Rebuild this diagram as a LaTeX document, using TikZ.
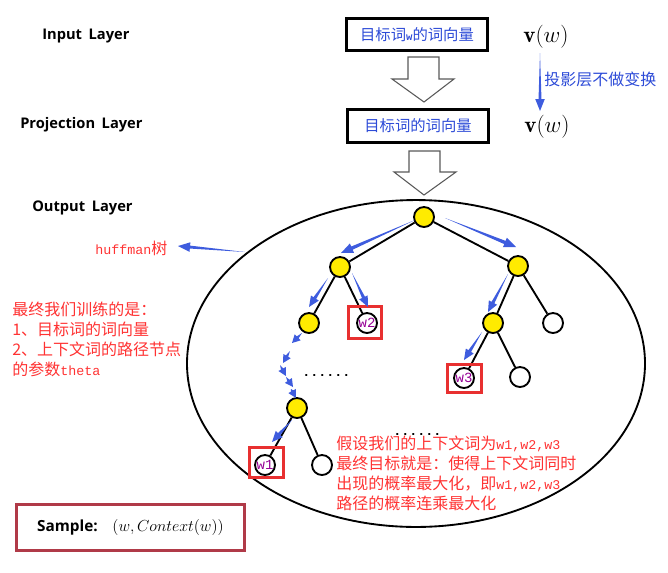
\documentclass[tikz,border=0pt]{standalone}
\usepackage{fontspec}
\usetikzlibrary{calc,arrows.meta}
\newfontfamily\cjk{Noto Sans CJK SC}
\newfontfamily\mono{Liberation Mono}
\newfontfamily\lab{Open Sans}
\definecolor{tblue}{RGB}{62,92,222}
\definecolor{txtblue}{RGB}{45,75,215}
\definecolor{tred}{RGB}{255,50,50}
\definecolor{boxred}{RGB}{232,48,48}
\definecolor{sampred}{RGB}{176,58,72}
\definecolor{wpurple}{RGB}{150,0,150}
\definecolor{tyellow}{RGB}{255,235,0}
\newcommand\taparrow[5]{%
  \coordinate (tah) at ($(#2)!#3!(#1)$);
  \fill[tblue] (#1) -- ($(tah)!#4!90:(#2)$) -- ($(tah)!#5!90:(#2)$) -- (#2)
    -- ($(tah)!#5!-90:(#2)$) -- ($(tah)!#4!-90:(#2)$) -- cycle;}
\tikzset{
  lay/.style={font=\lab\bfseries\fontsize{11}{13}\selectfont, anchor=west, inner sep=0pt},
  vbox/.style={draw, line width=2.25pt, minimum width=105.75pt, minimum height=24.5pt,
    inner sep=0pt, text=txtblue, font=\cjk\fontsize{11.5}{14}\selectfont},
  vw/.style={font=\fontsize{17.28}{20}\selectfont, inner sep=0pt},
  hollow/.style={draw=black!65, line width=0.8pt, fill=white},
  ynode/.style={circle, draw, line width=1.4pt, fill=tyellow, minimum size=15pt, inner sep=0pt},
  wnode/.style={ynode, fill=white, text=wpurple, font=\mono\fontsize{10.5}{10.5}\selectfont},
  edge/.style={line width=1.4pt},
  redbox/.style={draw=boxred, line width=2.25pt, inner sep=0pt},
  rtext/.style={text=tred, font=\cjk\fontsize{12}{15}\selectfont, align=left, inner sep=0pt},
  dots/.style={font=\mono\bfseries\fontsize{10}{10}\selectfont, anchor=base, inner sep=0pt},
  samplebox/.style={draw=sampred, line width=2.25pt, minimum width=170.5pt, minimum height=34.5pt, inner sep=0pt}
}
\begin{document}
\begin{tikzpicture}[x=0.75pt, y=-0.75pt]
\useasboundingbox (0,0) rectangle (668,572);
% layer labels
\node[lay] (inl) at (42,36) {Input\hspace{0.45em}Layer};
\node[lay] (prl) at (20,125) {Projection\hspace{0.45em}Layer};
\node[lay] (oul) at (32,208) {Output\hspace{0.45em}Layer};
% boxes
\node[vbox] (box1) at (417,34.5) {目标词{\mono\bfseries\fontsize{8}{8}\selectfont w}的词向量};
\node[vbox] (box2) at (418,126) {目标词的词向量};
\node[vw] (v1) at (546,37) {$\mathbf{v}(w)$};
\node[vw] (v2) at (547,127) {$\mathbf{v}(w)$};
% projection arrow
\coordinate (pa) at (540,53);
\coordinate (pb) at (540,111);
\taparrow{pa}{pb}{9pt}{1.1pt}{3.6pt}
\node[anchor=west, inner sep=0pt, text=txtblue, font=\cjk\fontsize{12}{14}\selectfont] (ptxt) at (544,79) {投影层不做变换};
% hollow block arrows
\draw[hollow] (408,57) -- (439,57) -- (439,79) -- (454,79) -- (424,102) -- (392,79) -- (408,79) -- cycle;
\draw[hollow] (409,151) -- (440,151) -- (440,172) -- (456,172) -- (424,195) -- (394,172) -- (409,172) -- cycle;
% ellipse
\draw[line width=1.4pt] (416,363.5) ellipse [x radius=171.75pt, y radius=122.6pt];
% tree nodes
\node[ynode] (root) at (424,217) {};
\node[ynode] (l1a) at (340,267) {};
\node[ynode] (l1b) at (518,266) {};
\node[ynode] (l2a) at (309,323) {};
\node[wnode] (w2) at (367,323) {w2};
\node[ynode] (l2b) at (493,323) {};
\node[wnode] (l2c) at (553,323) {};
\node[wnode] (w3) at (464,378) {w3};
\node[wnode] (l3d) at (520,377) {};
\node[ynode] (l4) at (297,408) {};
\node[wnode] (w1) at (265,465) {w1};
\node[wnode] (l5) at (322,465) {};
\draw[edge] (root) -- (l1a);
\draw[edge] (root) -- (l1b);
\draw[edge] (l1a) -- (l2a);
\draw[edge] (l1a) -- (w2);
\draw[edge] (l1b) -- (l2b);
\draw[edge] (l1b) -- (l2c);
\draw[edge] (l2b) -- (w3);
\draw[edge] (l2b) -- (l3d);
\draw[edge] (l4) -- (w1);
\draw[edge] (l4) -- (l5);
% red boxes
\node[redbox, minimum width=24.75pt, minimum height=24pt] (w2box) at (364.5,322) {};
\node[redbox, minimum width=25.5pt, minimum height=21.5pt] (w3box) at (464,378.5) {};
\node[redbox, minimum width=26pt, minimum height=23pt] (w1box) at (266.5,462.5) {};
% blue path arrows
\coordinate (a1s) at (415,220); \coordinate (a1e) at (341,253);
\coordinate (a2s) at (445,218); \coordinate (a2e) at (516,247);
\coordinate (a3s) at (328,278); \coordinate (a3e) at (309,307);
\coordinate (a4s) at (352,273); \coordinate (a4e) at (368,307);
\coordinate (a5s) at (508,274); \coordinate (a5e) at (488,312);
\coordinate (a6s) at (482,332); \coordinate (a6e) at (464,360);
\coordinate (a7s) at (292,420); \coordinate (a7e) at (272,442);
\taparrow{a1s}{a1e}{9pt}{1.3pt}{3.8pt}
\taparrow{a2s}{a2e}{9pt}{1.3pt}{3.8pt}
\taparrow{a3s}{a3e}{8pt}{1.2pt}{3.5pt}
\taparrow{a4s}{a4e}{8pt}{1.2pt}{3.5pt}
\taparrow{a5s}{a5e}{8pt}{1.2pt}{3.5pt}
\taparrow{a6s}{a6e}{8pt}{1.2pt}{3.5pt}
\taparrow{a7s}{a7e}{8pt}{1.2pt}{3.5pt}
% dotted chain
\coordinate (c1s) at (302,333); \coordinate (c1e) at (292,343);
\coordinate (c2s) at (290,351); \coordinate (c2e) at (283,363);
\coordinate (c3s) at (280,365); \coordinate (c3e) at (286,376);
\coordinate (c4s) at (286,377); \coordinate (c4e) at (293,387);
\coordinate (c5s) at (291,389); \coordinate (c5e) at (296,398);
\taparrow{c1s}{c1e}{6pt}{1pt}{3.2pt}
\taparrow{c2s}{c2e}{6pt}{1pt}{3.2pt}
\taparrow{c3s}{c3e}{6pt}{1pt}{3.2pt}
\taparrow{c4s}{c4e}{6pt}{1pt}{3.2pt}
\taparrow{c5s}{c5e}{6pt}{1pt}{3.2pt}
% dots
\node[dots] (dots1) at (326.5,376) {......};
\node[dots] (dots2) at (417.5,435) {......};
% huffman label
\node[anchor=west, inner sep=0pt, text=tred] (hlab) at (95,248) {{\mono\fontsize{10}{12}\selectfont huffman}{\cjk\fontsize{12}{14}\selectfont 树}};
\coordinate (hs) at (245,252);
\coordinate (he) at (178,246);
\taparrow{hs}{he}{9pt}{1.1pt}{3.6pt}
% red texts
\node[rtext, anchor=north west] (lefttxt) at (12,302) {最终我们训练的是：\\1、目标词的词向量\\2、上下文词的路径节点\\的参数{\mono\fontsize{10}{15}\selectfont theta}};
\node[rtext, anchor=north west] (righttxt) at (336,436) {假设我们的上下文词为{\mono\fontsize{10}{15}\selectfont w1,w2,w3}\\最终目标就是：使得上下文词同时\\出现的概率最大化，即{\mono\fontsize{10}{15}\selectfont w1,w2,w3}\\路径的概率连乘最大化};
% sample box
\node[samplebox] (sample) at (130.5,527.5) {{\lab\bfseries\fontsize{11.5}{14}\selectfont Sample:}\hspace{11pt}{\fontsize{12}{14}\selectfont$(w,Context(w))$}};
\end{tikzpicture}
\end{document}
